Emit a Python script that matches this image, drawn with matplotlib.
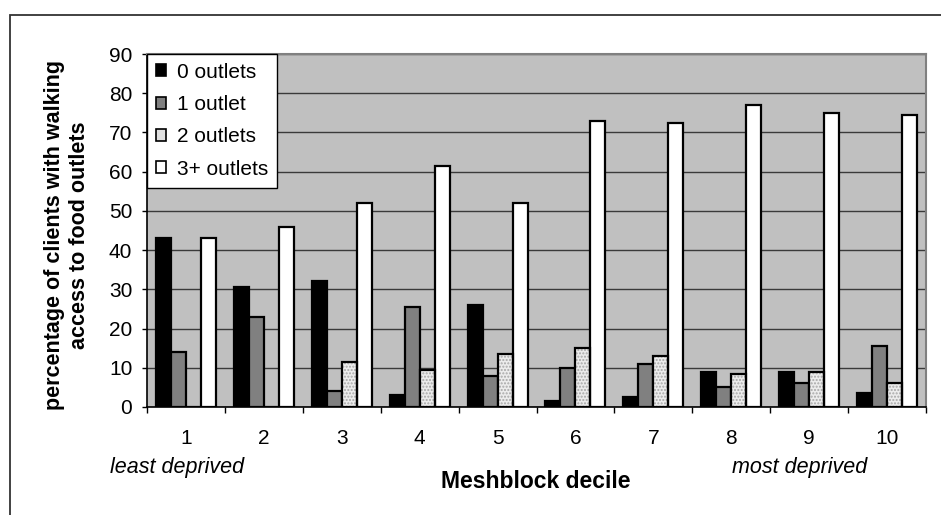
import matplotlib
matplotlib.use("Agg")
import matplotlib.pyplot as plt
import matplotlib.patches as mpatches
import numpy as np

plt.rcParams['font.family'] = ['Liberation Sans', 'DejaVu Sans']

deciles = ['1', '2', '3', '4', '5', '6', '7', '8', '9', '10']
series_names = ['0 outlets', '1 outlet', '2 outlets', '3+ outlets']
outlets_0 = [43, 30.5, 32, 3, 26, 1.5, 2.5, 9, 9, 3.5]
outlets_1 = [14, 23, 4, 25.5, 8, 10, 11, 5, 6, 15.5]
outlets_2 = [0, 0, 11.5, 9.5, 13.5, 15, 13, 8.5, 9, 6]
outlets_3 = [43, 46, 52, 61.5, 52, 73, 72.5, 77, 75, 74.5]
yticks = [0, 10, 20, 30, 40, 50, 60, 70, 80, 90]

W, H = 941, 515
fig = plt.figure(figsize=(W / 100, H / 100), dpi=100)
fig.patch.set_facecolor('white')

# outer frame
frame = mpatches.Rectangle((10 / W, -0.1), 1.2, 1 - 15 / H + 0.1,
                           transform=fig.transFigure, fill=False,
                           edgecolor='#333333', linewidth=1.3, zorder=0)
fig.add_artist(frame)

left, right, top, bottom = 147, 926, 54, 407
ax = fig.add_axes([left / W, 1 - bottom / H, (right - left) / W, (bottom - top) / H])
ax.set_facecolor('#C0C0C0')

x = np.arange(len(deciles)) + 1
bw = 0.1925
data = [outlets_0, outlets_1, outlets_2, outlets_3]
faces = ['black', '#808080', '#E6E6E6', 'white']
handles = []
for i, (vals, fc) in enumerate(zip(data, faces)):
    pos = x + (i - 1.5) * bw
    if i == 2:
        ax.bar(pos, vals, width=bw, facecolor='#ECECEC', edgecolor='#A8A8A8',
               hatch='.....', linewidth=0, zorder=3)
        ax.bar(pos, vals, width=bw, facecolor='none', edgecolor='black',
               linewidth=1.6, zorder=4)
        h = mpatches.Patch(facecolor='#E0E0E0', edgecolor='black', linewidth=1.2,
                           label=series_names[i])
    else:
        ax.bar(pos, vals, width=bw, facecolor=fc, edgecolor='black',
               linewidth=1.6, zorder=3)
        h = mpatches.Patch(facecolor=fc, edgecolor='black', linewidth=1.2,
                           label=series_names[i])
    handles.append(h)

ax.set_xlim(0.5, 10.5)
ax.set_ylim(0, 90)
ax.set_yticks(yticks)
ax.yaxis.grid(True, color='#3a3a3a', linewidth=1.0)
ax.set_axisbelow(True)

ax.set_xticks(np.arange(0.5, 11, 1))
ax.set_xticklabels([])
ax.set_xticks(x, minor=True)
ax.set_xticklabels(deciles, minor=True)
ax.tick_params(axis='x', which='major', direction='out', length=4.3, width=1, color='black')
ax.tick_params(axis='x', which='minor', length=0, pad=16, labelsize=15)
ax.tick_params(axis='y', direction='out', length=3.6, width=1, color='black', pad=7, labelsize=15)

for s in ['top', 'right']:
    ax.spines[s].set_color('#808080')
    ax.spines[s].set_linewidth(1.5)
for s in ['left', 'bottom']:
    ax.spines[s].set_color('black')
    ax.spines[s].set_linewidth(1.2)

leg = ax.legend(handles=handles, loc='upper left', bbox_to_anchor=(0, 1),
                borderaxespad=0, fontsize=15, handlelength=0.5, handleheight=0.5,
                handletextpad=0.5, labelspacing=0.64, borderpad=0.42,
                frameon=True, fancybox=False)
leg.get_frame().set_edgecolor('black')
leg.get_frame().set_linewidth(1.0)
leg.get_frame().set_facecolor('white')
leg.get_frame().set_alpha(1)
leg.set_zorder(10)

fig.text(67 / W, 1 - 235 / H, 'percentage of clients with walking\naccess to food outlets',
         rotation=90, ha='center', va='center', multialignment='center',
         fontsize=15.5, fontweight='bold', linespacing=1.2)
fig.text(536 / W, 1 - 481 / H, 'Meshblock decile', ha='center', va='center',
         fontsize=16.5, fontweight='bold')
fig.text(177 / W, 1 - 468 / H, 'least deprived', ha='center', va='center',
         fontsize=15.5, style='italic')
fig.text(800 / W, 1 - 468 / H, 'most deprived', ha='center', va='center',
         fontsize=15.5, style='italic')

fig.savefig('out.png', dpi=100, facecolor='white')
